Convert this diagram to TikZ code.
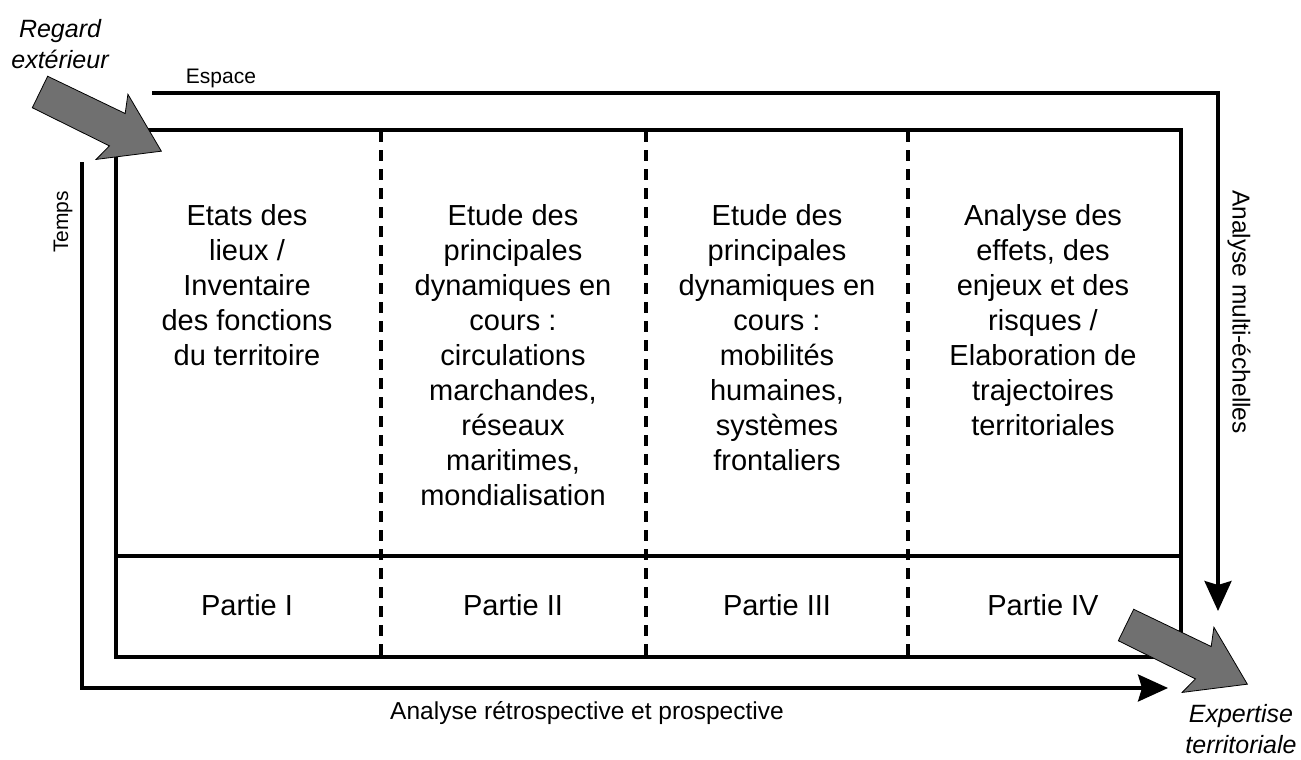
\documentclass[tikz,border=0pt]{standalone}
\usepackage{fontspec}
\setmainfont{Liberation Sans}
\usetikzlibrary{arrows.meta,calc,positioning}
\definecolor{bigarrow}{RGB}{112,112,112}

\begin{document}
\begin{tikzpicture}[x=1pt,y=-1pt,
  frame/.style={line width=3.2pt},
  partsep/.style={line width=3.4pt,dash pattern=on 11pt off 8pt},
  flow/.style={line width=3.2pt,-{Stealth[length=30pt,width=27pt,inset=4pt]}},
  coltext/.style={align=center,inner sep=0pt,font=\fontsize{29}{35}\selectfont},
  axislab/.style={inner sep=0pt,font=\fontsize{21}{25}\selectfont},
  sidelab/.style={inner sep=0pt,font=\fontsize{24.5}{30}\selectfont},
  outlab/.style={align=center,inner sep=0pt,font=\fontsize{25}{31}\selectfont\itshape}]
 \useasboundingbox (0,0) rectangle (1301,760);
 % frame of the four parts
 \coordinate (box-nw) at (116,130);
 \coordinate (box-se) at (1181,657);
 \coordinate (row-w) at (116,556);
 \coordinate (row-e) at (1181,556);
 \draw[frame] (box-nw) rectangle (box-se);
 \draw[frame] (row-w) -- (row-e);
 \foreach \x in {381,646,908} {\draw[partsep] (\x,131) -- (\x,656);}
 % contents of the parts
 \foreach \n/\x/\txt/\part in {
   1/247/{Etats des\\lieux /\\Inventaire\\des fonctions\\du territoire}/I,
   2/513/{Etude des\\principales\\dynamiques en\\cours :\\circulations\\marchandes,\\réseaux\\maritimes,\\mondialisation}/II,
   3/777/{Etude des\\principales\\dynamiques en\\cours :\\mobilités\\humaines,\\systèmes\\frontaliers}/III,
   4/1043/{Analyse des\\effets, des\\enjeux et des\\risques /\\Elaboration de\\trajectoires\\territoriales}/IV}{
   \node[coltext,anchor=north] (col\n) at (\x,204) {\txt};
   \node[coltext] (part\n) at (\x,605) {Partie \part};
 }
 % space and time axes
 \coordinate (esp-start) at (152,93);
 \coordinate (esp-end) at (1218,611);
 \coordinate (tps-start) at (82,162);
 \coordinate (tps-end) at (1168,688);
 \draw[flow] (esp-start) -| (esp-end);
 \draw[flow] (tps-start) |- (tps-end);
 \node[axislab,anchor=base] (espace) at (221,83) {Espace};
 \node[axislab,rotate=90] (temps) at (63,222) {Temps};
 \node[sidelab,rotate=-90] (multi) at (1239,312) {Analyse multi-échelles};
 \node[sidelab,anchor=base] (retro) at (587,719) {Analyse rétrospective et prospective};
 % input and output
 \node[outlab] (regard) at (60,44) {Regard\\extérieur};
 \node[outlab] (expertise) at (1241,729) {Expertise\\territoriale};
 \foreach \tx/\ty in {40/92,1126/625}{
  \begin{scope}[shift={(\tx,\ty)},rotate=-26]
   \filldraw[fill=bigarrow,draw=black,line width=0.8pt]
     (0,-17.5) -- (86,-18) -- (80,-36.5) -- (135,0) -- (80,36) -- (86,18) -- (0,17.5) -- cycle;
  \end{scope}}
\end{tikzpicture}
\end{document}
